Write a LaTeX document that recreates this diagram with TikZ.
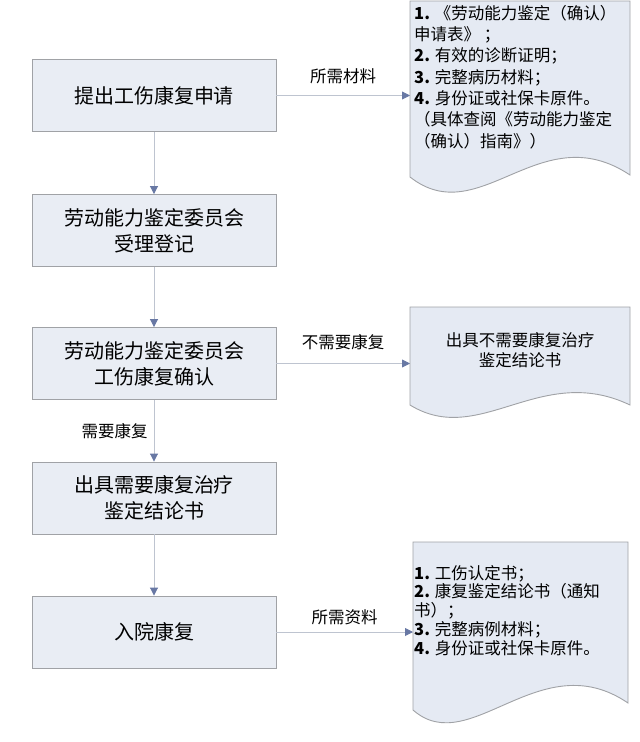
\documentclass[tikz,border=0pt]{standalone}
\usepackage{fontspec}
\setmainfont{Noto Sans CJK SC}
\usetikzlibrary{arrows.meta, positioning}

\definecolor{boxfill}{RGB}{233,237,244}
\definecolor{boxline}{RGB}{160,162,166}
\definecolor{docfill}{RGB}{229,234,243}
\definecolor{flowline}{RGB}{190,196,208}
\definecolor{tipblue}{RGB}{104,120,164}

\tikzset{
	stepbox/.style = {draw = boxline, fill = boxfill, line width = 0.9pt, minimum width = 244, minimum height = 72, align = center, font = \fontsize{20}{26}\selectfont},
	flow/.style = {draw = flowline, line width = 0.9pt, -{Triangle[length = 8pt, width = 8pt, color = tipblue]}},
	lbl/.style = {font = \fontsize{16.5}{20}\selectfont, inner sep = 2pt},
	docshape/.style = {draw = boxline, fill = docfill, line width = 0.9pt},
	doctext/.style = {align = left, anchor = north west, inner sep = 0pt}
}

\begin{document}
\begin{tikzpicture}[x = 1pt, y = -1pt]
		\useasboundingbox (0,0) rectangle (640,742);
		\def\cx{154};

		% steps
		\node [stepbox] (apply) at (\cx,95.5) {提出工伤康复申请};
		\node [stepbox] (register) at (\cx,230.5) {劳动能力鉴定委员会\\受理登记};
		\node [stepbox] (confirm) at (\cx,363.5) {劳动能力鉴定委员会\\工伤康复确认};
		\node [stepbox] (needed) at (\cx,498) {出具需要康复治疗\\鉴定结论书};
		\node [stepbox] (admit) at (\cx,632) {入院康复};

		% documents
		\filldraw [docshape] (410,1) -- (630,1) -- (630,175) .. controls (540,115) and (480,232) .. (410,177) -- cycle;
		\filldraw [docshape] (410,307) -- (630,307) -- (630,405) .. controls (540,362) and (480,448) .. (410,405) -- cycle;
		\filldraw [docshape] (413,542) -- (628,542) -- (628,703) .. controls (540,643) and (470,760) .. (413,710) -- cycle;

		\node [doctext, font = \fontsize{16.5}{21.3}\selectfont] (materials) at (414,5) {\textbf{1.} 《劳动能力鉴定（确认）\\申请表》 ；\\\textbf{2.} 有效的诊断证明；\\\textbf{3.} 完整病历材料；\\\textbf{4.} 身份证或社保卡原件。\\（具体查阅《劳动能力鉴定\\（确认）指南》）};
		\node [align = center, font = \fontsize{16.5}{20}\selectfont] (notneeded) at (520,350) {出具不需要康复治疗\\鉴定结论书};
		\node [doctext, font = \fontsize{16.5}{18.8}\selectfont] (papers) at (414,565) {\textbf{1.} 工伤认定书；\\\textbf{2.} 康复鉴定结论书（通知\\书）；\\\textbf{3.} 完整病例材料；\\\textbf{4.} 身份证或社保卡原件。};

		\coordinate (matin) at (410,95.5);
		\coordinate (notin) at (410,363.5);
		\coordinate (papin) at (413,632);

		% connectors
		\draw [flow] (apply) -- (register);
		\draw [flow] (register) -- (confirm);
		\draw [flow] (confirm) -- node [lbl, left = 4pt] {需要康复} (needed);
		\draw [flow] (needed) -- (admit);

		\draw [flow] (apply) -- node [lbl, above = 9pt] {所需材料} (matin);
		\draw [flow] (confirm) -- node [lbl, above = 11pt] {不需要康复} (notin);
		\draw [flow] (admit) -- node [lbl, above = 5pt] {所需资料} (papin);
	\end{tikzpicture}
\end{document}
